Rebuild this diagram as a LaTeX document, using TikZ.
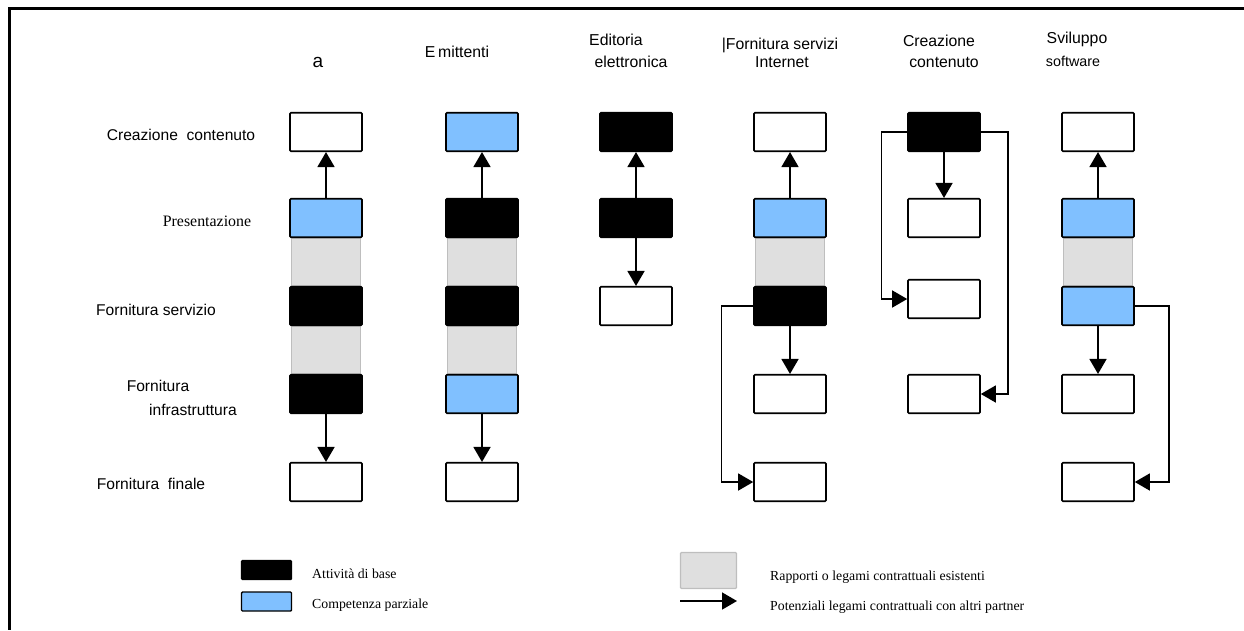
\documentclass[tikz,border=0pt]{standalone}
\usepackage{fontspec}
\setmainfont{Liberation Serif}
\setsansfont{Liberation Sans}
\usetikzlibrary{arrows.meta,backgrounds}
\definecolor{partblue}{RGB}{128,192,255}
\definecolor{bandgray}{RGB}{223,223,223}
\definecolor{bandedge}{RGB}{190,190,190}
\tikzset{
  box/.style={draw=black, line width=1.6pt, rounded corners=1pt, minimum width=72pt, minimum height=38.5pt, inner sep=0pt, fill=white},
  basebox/.style={box, fill=black},
  partbox/.style={box, fill=partblue},
  band/.style={draw=bandedge, line width=1.2pt, fill=bandgray},
  tip/.style={-{Triangle[length=15pt,width=17pt]}},
  link/.style={line width=1.6pt, tip},
  elbow/.style={line width=1.4pt, tip},
  lbl/.style={font=\sffamily\fontsize{15.6}{18}\selectfont, inner sep=0pt, anchor=base},
  ttl/.style={font=\sffamily\fontsize{15.8}{18}\selectfont, inner sep=0pt, anchor=base},
  lgd/.style={font=\rmfamily\fontsize{13.8}{16}\selectfont, inner sep=0pt, anchor=base west},
  lgbox/.style={draw=black, line width=1.4pt, rounded corners=1pt, minimum width=50pt, minimum height=19pt, inner sep=0pt},
}
\begin{document}
\begin{tikzpicture}[x=1pt,y=-1pt]
\useasboundingbox (0,0) rectangle (1244,630);
% frame
\draw[line width=3pt] (1244,8.5) -- (9,8.5) -- (9,630);

% column titles
\node[ttl,font=\sffamily\fontsize{19}{22}\selectfont] (t1) at (318,67) {a};
\node[ttl] (t2) at (457,57) {E\,mittenti};
\node[ttl] (t3a) at (616,45) {Editoria};
\node[ttl] (t3b) at (631,67) {elettronica};
\node[ttl] (t4a) at (780,49) {|Fornitura servizi};
\node[ttl] (t4b) at (782,67) {Internet};
\node[ttl] (t5a) at (939,46) {Creazione};
\node[ttl] (t5b) at (944,67) {contenuto};
\node[ttl] (t6a) at (1077,43) {Sviluppo};
\node[ttl,font=\sffamily\fontsize{14.3}{16}\selectfont] (t6b) at (1073,66) {software};

% row labels
\node[lbl] (l1) at (181,140) {Creazione\ \ contenuto};
\node[lbl,font=\rmfamily\fontsize{15.9}{18}\selectfont] (l2) at (207,226) {Presentazione};
\node[lbl] (l3) at (156,315) {Fornitura servizio};
\node[lbl] (l4a) at (158,391) {Fornitura};
\node[lbl] (l4b) at (193,415) {infrastruttura};
\node[lbl] (l5) at (151,489) {Fornitura\ \ finale};

% column 1
\node[box]     (c1r1) at (326,132) {};
\node[partbox] (c1r2) at (326,218) {};
\node[basebox] (c1r3) at (326,306) {};
\node[basebox] (c1r4) at (326,394) {};
\node[box]     (c1r5) at (326,482) {};
% column 2
\node[partbox] (c2r1) at (482,132) {};
\node[basebox] (c2r2) at (482,218) {};
\node[basebox] (c2r3) at (482,306) {};
\node[partbox] (c2r4) at (482,394) {};
\node[box]     (c2r5) at (482,482) {};
% column 3
\node[basebox] (c3r1) at (636,132) {};
\node[basebox] (c3r2) at (636,218) {};
\node[box]     (c3r3) at (636,306) {};
% column 4
\node[box]     (c4r1) at (790,132) {};
\node[partbox] (c4r2) at (790,218) {};
\node[basebox] (c4r3) at (790,306) {};
\node[box]     (c4r4) at (790,394) {};
\node[box]     (c4r5) at (790,482) {};
% column 5
\node[basebox] (c5r1) at (944,132) {};
\node[box]     (c5r2) at (944,218) {};
\node[box]     (c5r3) at (944,299) {};
\node[box]     (c5r4) at (944,394) {};
% column 6
\node[box]     (c6r1) at (1098,132) {};
\node[partbox] (c6r2) at (1098,218) {};
\node[partbox] (c6r3) at (1098,306) {};
\node[box]     (c6r4) at (1098,394) {};
\node[box]     (c6r5) at (1098,482) {};

% bands (existing contractual links)
\begin{scope}[on background layer]
  \foreach \c in {1,2,4,6} {
    \draw[band] ([xshift=2pt]c\c r2.south west) rectangle ([xshift=-2pt]c\c r3.north east);
  }
  \foreach \c in {1,2} {
    \draw[band] ([xshift=2pt]c\c r3.south west) rectangle ([xshift=-2pt]c\c r4.north east);
  }
\end{scope}

% arrows
\draw[link] (c1r2.north) -- (c1r1.south);
\draw[link] (c1r4.south) -- (c1r5.north);
\draw[link] (c2r2.north) -- (c2r1.south);
\draw[link] (c2r4.south) -- (c2r5.north);
\draw[link] (c3r2.north) -- (c3r1.south);
\draw[link] (c3r2.south) -- (c3r3.north);
\draw[link] (c4r2.north) -- (c4r1.south);
\draw[link] (c4r3.south) -- (c4r4.north);
\draw[elbow] (c4r3.west) -- ++(-32,0) |- (c4r5.west);
\draw[link] (c5r1.south) -- (c5r2.north);
\draw[elbow] (c5r1.west) -- ++(-26,0) |- (c5r3.west);
\draw[elbow] (c5r1.east) -- ++(27,0) |- (c5r4.east);
\draw[link] (c6r2.north) -- (c6r1.south);
\draw[link] (c6r3.south) -- (c6r4.north);
\draw[elbow] (c6r3.east) -- ++(34,0) |- (c6r5.east);

% legend
\node[lgbox,fill=black] (k1) at (266.5,570) {};
\node[lgbox,fill=partblue] (k2) at (266.5,601.5) {};
\node[lgd] (k1t) at (312,578) {Attività di base};
\node[lgd] (k2t) at (312,608) {Competenza parziale};
\node[draw=bandedge,line width=1.2pt,fill=bandgray,rounded corners=1pt,minimum width=56pt,minimum height=36pt,inner sep=0pt] (k3) at (708.5,570.5) {};
\coordinate (ka) at (680,601);
\coordinate (kb) at (737,601);
\draw[link] (ka) -- (kb);
\node[lgd] (k3t) at (770,580) {Rapporti o legami contrattuali esistenti};
\node[lgd] (k4t) at (770,610) {Potenziali legami contrattuali con altri partner};
\end{tikzpicture}
\end{document}
